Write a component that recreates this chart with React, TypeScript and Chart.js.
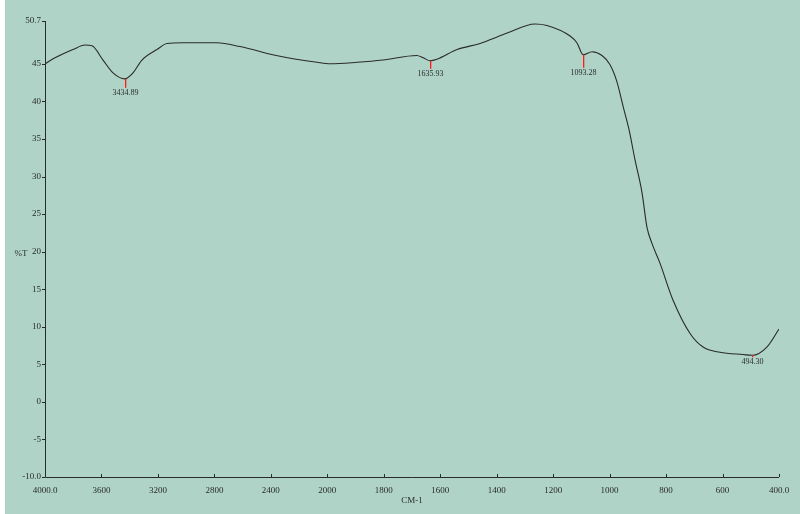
import React, { useEffect, useRef } from 'react';
import { Chart, registerables } from 'chart.js';

Chart.register(...registerables);

// Spectrum: wavenumber (cm-1) and transmittance (%T)
const wavenumbers = [
  4000, 3929, 3802, 3717, 3667, 3589, 3518, 3434.89, 3377, 3313, 3207, 3136, 3022, 2973,
  2781, 2619, 2335, 2073, 1990, 1894, 1803, 1683, 1660, 1635.93, 1612, 1540, 1459, 1424,
  1363, 1264, 1222, 1140, 1116, 1093.28, 1062, 1027, 999, 974, 952, 931, 910, 885, 868,
  850, 822, 776, 715, 669, 609, 527, 494.3, 443, 400,
];
const transmittance = [
  45.0, 45.8, 46.9, 47.5, 47.4, 45.5, 43.8, 43.0, 43.8, 45.5, 46.9, 47.7, 47.8, 47.8,
  47.8, 47.3, 46.0, 45.2, 45.0, 45.2, 45.5, 46.1, 45.8, 45.4, 45.6, 46.9, 47.7, 48.2,
  49.1, 50.3, 50.1, 48.7, 47.8, 46.2, 46.6, 46.1, 44.9, 42.6, 39.3, 36.2, 32.2, 27.8, 23.3,
  21.1, 18.5, 13.6, 9.1, 7.3, 6.6, 6.3, 6.2, 7.3, 9.7,
];

const peakWavenumbers = [3434.89, 1635.93, 1093.28, 494.3];
const peakLabels = ['3434.89', '1635.93', '1093.28', '494.30'];

const xTickLabels = ['4000.0', '3600', '3200', '2800', '2400', '2000', '1800', '1600', '1400', '1200', '1000', '800', '600', '400.0'];
const yTickValues = [-10, -5, 0, 5, 10, 15, 20, 25, 30, 35, 40, 45, 50.7];
const yTickLabels = ['-10.0', '-5', '0', '5', '10', '15', '20', '25', '30', '35', '40', '45', '50.7'];

const xAxisTitle = 'CM-1';
const yAxisTitle = '%T';

// Instrument axis: 400 cm-1 per division above 2000, 200 cm-1 per division below
function toAxis(w: number): number {
  return w >= 2000 ? (4000 - w) / 400 : 5 + (2000 - w) / 200;
}

const BG = '#afd4c7';
const INK = '#2a2a2a';
const FONT = '"Liberation Serif", "DejaVu Serif", serif';
const peakTickLen = [9, 8, 13, 2];

const decor = {
  id: 'decor',
  beforeDraw(chart: any) {
    const { ctx, width, height } = chart;
    ctx.save();
    ctx.fillStyle = '#ffffff';
    ctx.fillRect(0, 0, width, height);
    ctx.fillStyle = BG;
    ctx.fillRect(5, 0, width - 5, height);
    ctx.restore();
  },
  afterDraw(chart: any) {
    const { ctx, chartArea, scales } = chart;
    const xs = scales.x;
    const ys = scales.y;
    ctx.save();
    ctx.strokeStyle = INK;
    ctx.lineWidth = 1;
    // axes lines
    ctx.beginPath();
    ctx.moveTo(Math.round(chartArea.left) + 0.5, ys.getPixelForValue(50.7));
    ctx.lineTo(Math.round(chartArea.left) + 0.5, Math.round(chartArea.bottom) + 0.5);
    ctx.lineTo(Math.round(chartArea.right), Math.round(chartArea.bottom) + 0.5);
    ctx.stroke();
    // x ticks (pointing up)
    for (let i = 0; i < xTickLabels.length; i++) {
      const px = Math.round(xs.getPixelForValue(i)) + 0.5;
      ctx.beginPath();
      ctx.moveTo(px, chartArea.bottom);
      ctx.lineTo(px, chartArea.bottom - 3);
      ctx.stroke();
    }
    // y ticks
    for (const v of yTickValues) {
      const py = Math.round(ys.getPixelForValue(v)) + 0.5;
      ctx.beginPath();
      ctx.moveTo(chartArea.left - 3, py);
      ctx.lineTo(chartArea.left, py);
      ctx.stroke();
    }
    // axis titles
    ctx.fillStyle = INK;
    ctx.font = `9px ${FONT}`;
    ctx.textAlign = 'center';
    ctx.textBaseline = 'middle';
    ctx.fillText(yAxisTitle, 21, ys.getPixelForValue(20) + 2);
    ctx.fillText(xAxisTitle, (chartArea.left + chartArea.right) / 2, chartArea.bottom + 24);
    // peak markers
    ctx.font = `8px ${FONT}`;
    ctx.textBaseline = 'top';
    peakWavenumbers.forEach((w, i) => {
      const idx = wavenumbers.indexOf(w);
      const px = Math.round(xs.getPixelForValue(toAxis(w)));
      const py = ys.getPixelForValue(transmittance[idx]);
      const len = peakTickLen[i];
      ctx.fillStyle = '#ff1a1a';
      ctx.fillRect(px, py, 1.3, len);
      ctx.fillStyle = INK;
      ctx.fillText(peakLabels[i], px + 0.5, py + len + 1);
    });
    ctx.restore();
  },
};

export default function App() {
  const ref = useRef<HTMLCanvasElement | null>(null);
  useEffect(() => {
    document.body.style.margin = '0';
    if (!ref.current) return;
    const points = wavenumbers.map((w, i) => ({ x: toAxis(w), y: transmittance[i] }));
    const chart = new Chart(ref.current, {
      type: 'line',
      data: {
        datasets: [
          {
            data: points,
            borderColor: INK,
            borderWidth: 1.1,
            pointRadius: 0,
            fill: false,
            cubicInterpolationMode: 'monotone',
          },
        ],
      },
      options: {
        responsive: false,
        animation: false,
        events: [],
        layout: { padding: { top: 21, right: 21, left: 0, bottom: 0 } },
        plugins: { legend: { display: false }, tooltip: { enabled: false } },
        scales: {
          x: {
            type: 'linear',
            min: 0,
            max: 13,
            afterBuildTicks: (s: any) => {
              s.ticks = xTickLabels.map((_, i) => ({ value: i }));
            },
            afterFit: (s: any) => {
              s.height = 37;
            },
            ticks: {
              autoSkip: false,
              maxRotation: 0,
              padding: 8,
              color: INK,
              font: { family: FONT, size: 9 },
              callback: (v: any) => xTickLabels[Math.round(Number(v))] ?? '',
            },
            grid: { display: false, drawTicks: false },
            border: { display: false },
          },
          y: {
            type: 'linear',
            min: -10,
            max: 50.7,
            afterBuildTicks: (s: any) => {
              s.ticks = yTickValues.map((v) => ({ value: v }));
            },
            afterFit: (s: any) => {
              s.width = 45;
            },
            ticks: {
              autoSkip: false,
              padding: 4,
              color: INK,
              font: { family: FONT, size: 9 },
              callback: (v: any) => {
                const i = yTickValues.indexOf(Number(v));
                return i >= 0 ? yTickLabels[i] : '';
              },
            },
            grid: { display: false, drawTicks: false },
            border: { display: false },
          },
        },
      },
      plugins: [decor],
    } as any);
    return () => chart.destroy();
  }, []);
  return (
    <div style={{ width: 800, height: 514 }}>
      <canvas ref={ref} width={800} height={514} style={{ display: 'block' }} />
    </div>
  );
}
